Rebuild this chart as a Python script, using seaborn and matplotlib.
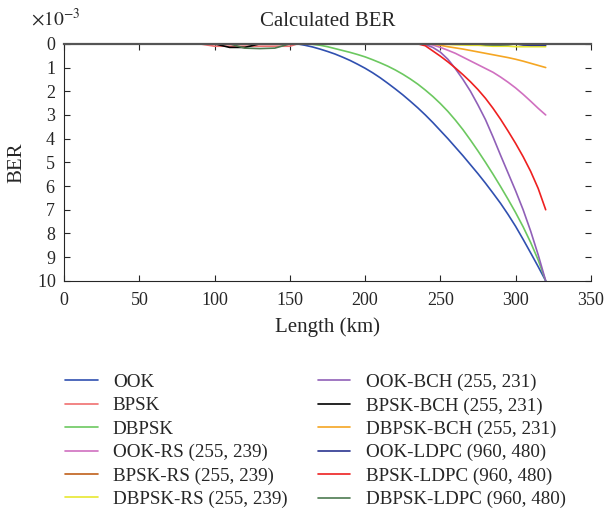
import numpy as np
import pandas as pd
import matplotlib
matplotlib.use('Agg')
import matplotlib.pyplot as plt
import matplotlib.ticker as mticker
import seaborn as sns

sns.set_style('ticks')
plt.rcParams['font.family'] = ['Liberation Serif', 'DejaVu Serif']
plt.rcParams['mathtext.fontset'] = 'stix'

# Length (km) sample points: coarse up to 150 km, then every 5 km
length = [0, 50, 90, 100, 110, 120, 130, 140, 150,
          155, 160, 165, 170, 175, 180, 185, 190, 195, 200,
          205, 210, 215, 220, 225, 230, 235,
          240, 245, 250, 255, 260, 265, 270, 275, 280,
          285, 290, 295, 300, 305, 310, 315, 320]

# BER values in units of 1e-3
ook = [0, 0, 0, 0, 0, 0, 0, 0, 0,
       0.0, 0.06, 0.13, 0.22, 0.32, 0.43, 0.56, 0.7, 0.86, 1.03,
       1.22, 1.43, 1.66, 1.9, 2.15, 2.42, 2.7,
       3.0, 3.32, 3.66, 4.0, 4.36, 4.72, 5.1, 5.48, 5.88,
       6.3, 6.73, 7.2, 7.7, 8.25, 8.82, 9.4, 10.0]
bpsk = [0, 0, 0, 0.1, 0.1, 0.1, 0.1, 0.1, 0.1,
        0, 0, 0, 0, 0, 0, 0, 0, 0, 0,
        0, 0, 0, 0, 0, 0, 0,
        0, 0, 0, 0, 0, 0, 0, 0, 0,
        0, 0, 0, 0, 0, 0, 0, 0]
dbpsk = [0, 0, 0, 0, 0, 0, 0, 0, 0,
         0, 0, 0.02, 0.06, 0.12, 0.2, 0.28, 0.36, 0.45, 0.55,
         0.67, 0.8, 0.94, 1.1, 1.28, 1.48, 1.7,
         1.95, 2.22, 2.52, 2.85, 3.22, 3.62, 4.06, 4.52, 5.0,
         5.5, 6.02, 6.56, 7.12, 7.72, 8.38, 9.12, 10.0]
ook_rs = [0, 0, 0, 0, 0, 0, 0, 0, 0,
          0, 0, 0, 0, 0, 0, 0, 0, 0, 0,
          0, 0, 0, 0, 0, 0, 0,
          0, 0.05, 0.15, 0.27, 0.4, 0.56, 0.72, 0.88, 1.04,
          1.2, 1.4, 1.62, 1.86, 2.13, 2.42, 2.72, 3.0]
bpsk_rs = [0, 0, 0, 0, 0, 0, 0, 0, 0,
           0, 0, 0, 0, 0, 0, 0, 0, 0, 0,
           0, 0, 0, 0, 0, 0, 0,
           0, 0, 0, 0, 0, 0, 0, 0, 0,
           0, 0, 0, 0, 0, 0, 0, 0]
dbpsk_rs = [0, 0, 0, 0, 0, 0, 0, 0, 0,
            0, 0, 0, 0, 0, 0, 0, 0, 0, 0,
            0, 0, 0, 0, 0, 0, 0,
            0, 0, 0, 0.02, 0.04, 0.05, 0.06, 0.06, 0.08,
            0.1, 0.1, 0.1, 0.12, 0.12, 0.12, 0.12, 0.12]
ook_bch = [0, 0, 0, 0, 0, 0, 0, 0, 0,
           0, 0, 0, 0, 0, 0, 0, 0, 0, 0,
           0, 0, 0, 0, 0, 0, 0,
           0.03, 0.15, 0.35, 0.65, 1.05, 1.5, 2.0, 2.58, 3.2,
           3.93, 4.7, 5.45, 6.2, 7.0, 7.9, 8.9, 10.0]
bpsk_bch = [0, 0, 0, 0, 0.15, 0.15, 0, 0, 0,
            0, 0, 0, 0, 0, 0, 0, 0, 0, 0,
            0, 0, 0, 0, 0, 0, 0,
            0, 0, 0, 0, 0, 0, 0, 0, 0,
            0, 0, 0, 0, 0, 0, 0, 0]
dbpsk_bch = [0, 0, 0, 0, 0, 0, 0, 0, 0,
             0, 0, 0, 0, 0, 0, 0, 0, 0, 0,
             0, 0, 0, 0, 0, 0, 0,
             0, 0.01, 0.06, 0.12, 0.17, 0.22, 0.28, 0.34, 0.4,
             0.46, 0.52, 0.58, 0.65, 0.73, 0.82, 0.91, 1.0]
ook_ldpc = [0, 0, 0, 0, 0, 0, 0, 0, 0,
            0, 0, 0, 0, 0, 0, 0, 0, 0, 0,
            0, 0, 0, 0, 0, 0, 0,
            0, 0, 0, 0, 0, 0, 0, 0, 0,
            0, 0, 0, 0, 0.05, 0.06, 0.06, 0.06]
bpsk_ldpc = [0, 0, 0, 0, 0, 0, 0, 0, 0,
             0, 0, 0, 0, 0, 0, 0, 0, 0, 0,
             0, 0, 0, 0, 0, 0, 0,
             0.08, 0.3, 0.52, 0.76, 1.02, 1.3, 1.6, 1.93, 2.3,
             2.72, 3.18, 3.68, 4.2, 4.76, 5.38, 6.1, 7.0]
dbpsk_ldpc = [0, 0, 0, 0, 0, 0.18, 0.2, 0.18, 0,
              0, 0, 0, 0, 0, 0, 0, 0, 0, 0,
              0, 0, 0, 0, 0, 0, 0,
              0, 0, 0, 0, 0, 0, 0, 0, 0.04,
              0.05, 0.05, 0.04, 0, 0, 0, 0, 0]

names = ['OOK', 'BPSK', 'DBPSK',
         'OOK-RS (255, 239)', 'BPSK-RS (255, 239)', 'DBPSK-RS (255, 239)',
         'OOK-BCH (255, 231)', 'BPSK-BCH (255, 231)', 'DBPSK-BCH (255, 231)',
         'OOK-LDPC (960, 480)', 'BPSK-LDPC (960, 480)', 'DBPSK-LDPC (960, 480)']
series = [ook, bpsk, dbpsk, ook_rs, bpsk_rs, dbpsk_rs,
          ook_bch, bpsk_bch, dbpsk_bch, ook_ldpc, bpsk_ldpc, dbpsk_ldpc]
colors = ['#3050b0', '#f07070', '#6cc860', '#d070c0', '#c0601a', '#e8e830',
          '#9060b8', '#000000', '#f5a623', '#2a3590', '#ee2020', '#4d7a50']

# long format table for seaborn
frames = []
for name, vals in zip(names, series):
    frames.append(pd.DataFrame({'Length': length,
                                'BER': np.array(vals) * 1e-3,
                                'Scheme': name}))
df = pd.concat(frames, ignore_index=True)

fig = plt.figure(figsize=(6.11, 5.22), dpi=100)
ax = fig.add_axes([0.105, 0.462, 0.862, 0.454])

sns.lineplot(data=df, x='Length', y='BER', hue='Scheme', hue_order=names,
             palette=dict(zip(names, colors)), sort=False, linewidth=1.2,
             estimator=None, ax=ax)

ax.set_xlim(0, 350)
ax.set_ylim(0.01, 0)
ax.set_xticks(range(0, 351, 50))
ax.set_yticks(np.arange(0, 11) * 1e-3)
fmt = mticker.ScalarFormatter(useMathText=True)
fmt.set_powerlimits((-3, -3))
ax.yaxis.set_major_formatter(fmt)
ax.yaxis.get_offset_text().set_visible(False)
ax.text(-0.063, 1.075, r'$\times10^{-3}$', transform=ax.transAxes,
        fontsize=14, ha='left', va='baseline')

ax.tick_params(direction='in', labelsize=13, length=4, width=0.8,
               top=True, right=True)
ax.tick_params(axis='y', pad=6)
ax.tick_params(axis='x', pad=8)
ax.spines['right'].set_visible(False)
ax.spines['top'].set_color('#555555')
ax.spines['top'].set_linewidth(1.6)

ax.set_title('Calculated BER', fontsize=15, pad=13)
ax.set_xlabel('Length (km)', fontsize=15, labelpad=6)
ax.set_ylabel('BER', fontsize=15, labelpad=7)

handles, labels = ax.get_legend_handles_labels()
ax.get_legend().remove()
fig.legend(handles, labels, loc='upper left', bbox_to_anchor=(0.079, 0.317),
           ncol=2, frameon=False, fontsize=13.7, handlelength=1.7,
           handletextpad=0.8, columnspacing=1.6, labelspacing=0.32)

fig.savefig('out.png', dpi=100)
